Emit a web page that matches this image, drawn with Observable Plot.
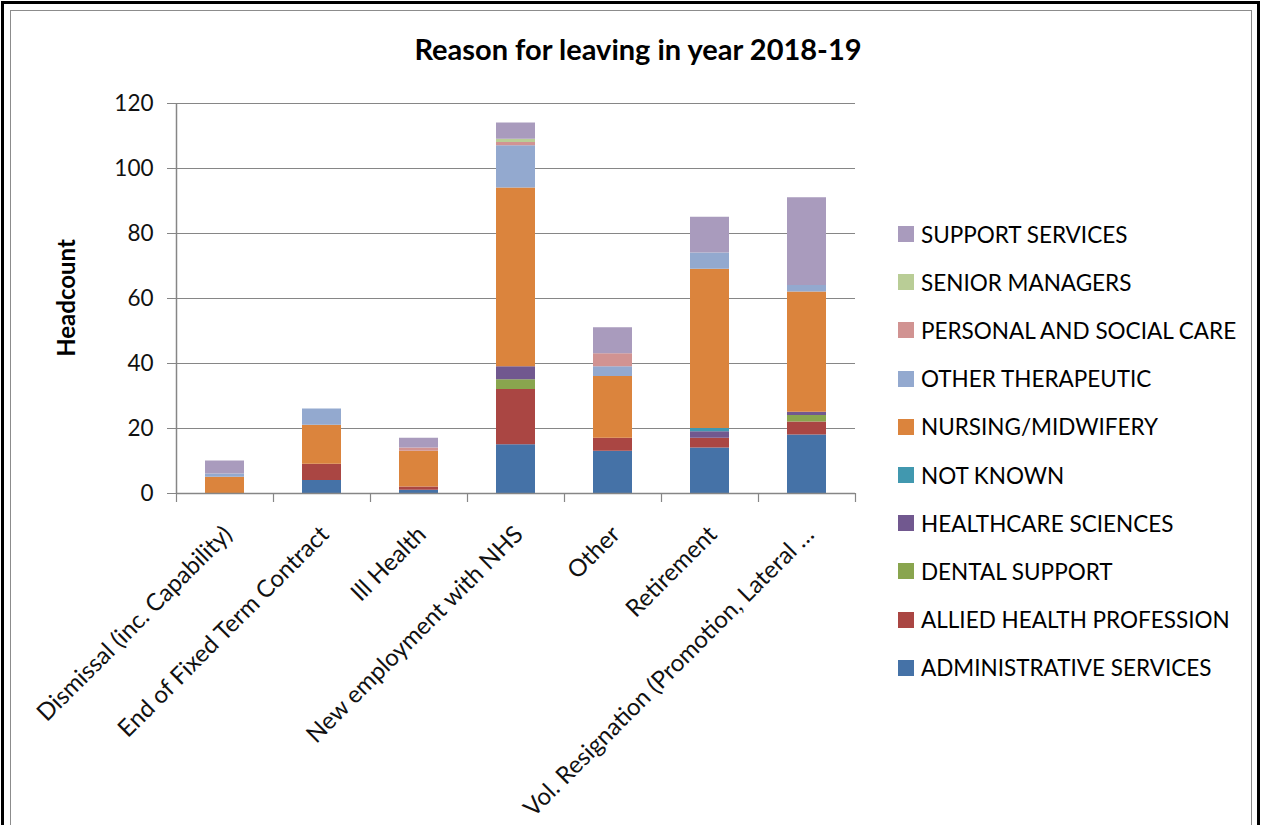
<!DOCTYPE html>
<html>
<head>
<meta charset="utf-8">
<script src="https://cdn.jsdelivr.net/npm/d3@7"></script>
<script src="https://cdn.jsdelivr.net/npm/@observablehq/plot@0.6"></script>
<style>
  body { margin: 0; background: #fff; font-family: Lato, "Open Sans", sans-serif; }
  #page { position: relative; width: 1263px; height: 825px; overflow: hidden; background: #fff; }
  #outer { position: absolute; left: 1px; top: 1px; width: 1253px; height: 860px; border: 3px solid #000; }
  #inner { position: absolute; left: 10px; top: 10px; width: 1240px; height: 860px; border: 1.5px solid #8c8c8c; }
  #title { position: absolute; left: 288px; top: 31px; width: 700px; text-align: center;
           font-weight: bold; font-size: 29px; color: #000; }
  #ylab { position: absolute; left: 65px; top: 298px; transform: translate(-50%, -50%) rotate(-90deg);
          font-weight: bold; font-size: 24px; color: #000; white-space: nowrap; }
  #chart { position: absolute; left: 0; top: 80px; }
  #legend { position: absolute; left: 898px; top: 210px; }
  .row { position: absolute; left: 0; height: 24px; display: flex; align-items: center; white-space: nowrap;
         font-size: 22.5px; color: #000; }
  .sw { width: 16px; height: 16px; margin-right: 7px; }
</style>
</head>
<body>
<div id="page">
  <div id="outer"></div>
  <div id="inner"></div>
  <div id="title">Reason for leaving in year 2018-19</div>
  <div id="ylab">Headcount</div>
  <div id="chart"></div>
  <div id="legend"></div>
</div>
<script>
// Reasons for leaving (x categories)
const reasons = [
  "Dismissal (inc. Capability)",
  "End of Fixed Term Contract",
  "Ill Health",
  "New employment with NHS",
  "Other",
  "Retirement",
  "Vol. Resignation (Promotion, Lateral …"
];

// Staff groups, stacked bottom to top
const groups = [
  "ADMINISTRATIVE SERVICES",
  "ALLIED HEALTH PROFESSION",
  "DENTAL SUPPORT",
  "HEALTHCARE SCIENCES",
  "NOT KNOWN",
  "NURSING/MIDWIFERY",
  "OTHER THERAPEUTIC",
  "PERSONAL AND SOCIAL CARE",
  "SENIOR MANAGERS",
  "SUPPORT SERVICES"
];
const colours = ["#4572A7", "#AA4643", "#89A54E", "#71588F", "#4198AF",
                 "#DB843D", "#93A9CF", "#D19392", "#B9CD96", "#A99BBD"];

// Headcount per staff group, one value per reason
const administrative = [0, 4, 1, 15, 13, 14, 18];
const alliedHealth   = [0, 5, 1, 17, 4, 3, 4];
const dentalSupport  = [0, 0, 0, 3, 0, 0, 2];
const healthcareSci  = [0, 0, 0, 4, 0, 2, 1];
const notKnown       = [0, 0, 0, 0, 0, 1, 0];
const nursing        = [5, 12, 11, 55, 19, 49, 37];
const otherTherapy   = [1, 5, 0, 13, 3, 5, 2];
const personalSocial = [0, 0, 1, 1, 4, 0, 0];
const seniorManagers = [0, 0, 0, 1, 0, 0, 0];
const supportServ    = [4, 0, 3, 5, 8, 11, 27];

const yTicks = [0, 20, 40, 60, 80, 100, 120];

const series = [administrative, alliedHealth, dentalSupport, healthcareSci, notKnown,
                nursing, otherTherapy, personalSocial, seniorManagers, supportServ];

const rows = [];
reasons.forEach((r, i) => {
  groups.forEach((g, j) => rows.push({reason: r, group: g, count: series[j][i]}));
});

const W = 880, H = 745;
const mL = 176, mR = 25, mT = 23, mB = 332;
const step = (W - mL - mR) / reasons.length;
const axisGrey = "#868686";

const chart = Plot.plot({
  width: W, height: H,
  marginLeft: mL, marginRight: mR, marginTop: mT, marginBottom: mB,
  style: {fontFamily: "Lato, 'Open Sans', sans-serif", background: "transparent", color: "#000"},
  x: {domain: reasons, paddingInner: 0.6, paddingOuter: 0.3, axis: null},
  y: {domain: [0, 120], axis: null},
  color: {domain: groups, range: colours},
  marks: [
    Plot.gridY(yTicks.slice(1), {stroke: axisGrey, strokeOpacity: 1, strokeWidth: 1.2}),
    Plot.axisY(yTicks, {label: null, tickSize: 9, tickPadding: 14, stroke: axisGrey, fill: "#111", fontSize: 22.5}),
    Plot.barY(rows, Plot.stackY({x: "reason", y: "count", fill: "group", order: null})),
    Plot.ruleY([0], {stroke: axisGrey, strokeWidth: 1.5}),
    Plot.ruleX([reasons[0]], {y1: 0, y2: 120, dx: -step / 2, stroke: axisGrey, strokeWidth: 1.5}),
    Plot.ruleX(reasons, {y1: 0, y2: 0, insetBottom: -9, dx: -step / 2, stroke: axisGrey, strokeWidth: 1.2}),
    Plot.ruleX([reasons[reasons.length - 1]], {y1: 0, y2: 0, insetBottom: -9, dx: step / 2, stroke: axisGrey, strokeWidth: 1.2}),
    Plot.text(reasons, {x: d => d, y: 0, text: d => d, rotate: -45, textAnchor: "end",
                        dx: 3, dy: 37, fontSize: 24, fill: "#111"})
  ]
});
document.getElementById("chart").appendChild(chart);

// Legend, top entry is the last stacked group
const legend = document.getElementById("legend");
groups.slice().reverse().forEach((g, k) => {
  const row = document.createElement("div");
  row.className = "row";
  row.style.top = (12 + k * 48.2) + "px";
  const sw = document.createElement("div");
  sw.className = "sw";
  sw.style.background = colours[groups.indexOf(g)];
  const label = document.createElement("span");
  label.textContent = g;
  row.appendChild(sw);
  row.appendChild(label);
  legend.appendChild(row);
});
</script>
</body>
</html>
